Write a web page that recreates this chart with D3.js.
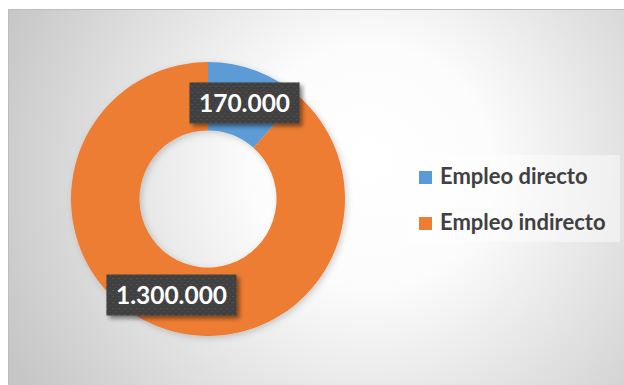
<!DOCTYPE html>
<html>
<head>
<meta charset="utf-8">
<script src="https://cdn.jsdelivr.net/npm/d3@7"></script>
<style>
  html, body { margin: 0; padding: 0; background: #ffffff; }
  svg { display: block; }
</style>
</head>
<body>
<svg id="chart" width="624" height="385"></svg>
<script>
// Employment figures shown in the donut
const categories = ["Empleo directo", "Empleo indirecto"];
const values = [170000, 1300000];
const valueLabels = ["170.000", "1.300.000"];
const colors = ["#5b9bd5", "#ed7d31"];

const W = 624, H = 385;
const svg = d3.select("#chart");
const defs = svg.append("defs");

// Chart area background: soft radial fade from white to grey
const bg = defs.append("radialGradient")
  .attr("id", "bgGrad")
  .attr("gradientUnits", "userSpaceOnUse")
  .attr("cx", 370).attr("cy", 180).attr("r", 400)
  .attr("fx", 370).attr("fy", 160);
bg.append("stop").attr("offset", 0).attr("stop-color", "#ffffff");
bg.append("stop").attr("offset", 0.3).attr("stop-color", "#fcfcfc");
bg.append("stop").attr("offset", 1).attr("stop-color", "#c6c6c6");

// Dotted texture used behind the data labels
const pat = defs.append("pattern")
  .attr("id", "dots")
  .attr("patternUnits", "userSpaceOnUse")
  .attr("width", 6).attr("height", 6);
pat.append("rect").attr("width", 6).attr("height", 6).attr("fill", "#3f3f3f");
pat.append("circle").attr("cx", 1.5).attr("cy", 1.5).attr("r", 0.8).attr("fill", "#5a5a5a");
pat.append("circle").attr("cx", 4.5).attr("cy", 4.5).attr("r", 0.8).attr("fill", "#555555");

// Drop shadows
const sh = defs.append("filter").attr("id", "labelShadow")
  .attr("x", "-20%").attr("y", "-30%").attr("width", "150%").attr("height", "170%");
sh.append("feDropShadow").attr("dx", 3).attr("dy", 3).attr("stdDeviation", 2.2)
  .attr("flood-color", "#000").attr("flood-opacity", 0.45);

const ringSh = defs.append("filter").attr("id", "ringShadow")
  .attr("x", "-20%").attr("y", "-20%").attr("width", "140%").attr("height", "140%");
ringSh.append("feDropShadow").attr("dx", 2).attr("dy", 2).attr("stdDeviation", 3)
  .attr("flood-color", "#000").attr("flood-opacity", 0.18);

// Frame
svg.append("rect")
  .attr("x", 8.5).attr("y", 9.5)
  .attr("width", W).attr("height", H)
  .attr("fill", "url(#bgGrad)")
  .attr("stroke", "#bdbdbd").attr("stroke-width", 1);

// Donut
const cx = 208, cy = 199, outerR = 137, innerR = 68.5;
const pie = d3.pie().sort(null).value(d => d)(values);
const arc = d3.arc().innerRadius(innerR).outerRadius(outerR);
const labelArc = d3.arc().innerRadius((innerR + outerR) / 2).outerRadius((innerR + outerR) / 2);

const g = svg.append("g").attr("transform", `translate(${cx},${cy})`);
g.append("g").attr("filter", "url(#ringShadow)")
  .selectAll("path")
  .data(pie)
  .join("path")
  .attr("d", arc)
  .attr("fill", (d, i) => colors[i]);

// Data labels
const labelFont = "Lato, 'Open Sans', sans-serif";
const lab = g.selectAll("g.lab")
  .data(pie)
  .join("g")
  .attr("class", "lab")
  .attr("transform", d => `translate(${labelArc.centroid(d)})`);

lab.each(function (d, i) {
  const gg = d3.select(this);
  const t = gg.append("text")
    .attr("text-anchor", "middle")
    .attr("dy", "0.35em")
    .attr("font-family", labelFont)
    .attr("font-weight", 700)
    .attr("font-size", 24.5)
    .attr("fill", "#ffffff")
    .text(valueLabels[i]);
  const w = t.node().getComputedTextLength();
  const bw = w + 19, bh = 41;
  gg.insert("rect", "text")
    .attr("x", -bw / 2).attr("y", -bh / 2)
    .attr("width", bw).attr("height", bh)
    .attr("fill", "url(#dots)")
    .attr("filter", "url(#labelShadow)");
});

// Legend
const legend = svg.append("g").attr("transform", "translate(407,155)");
legend.append("rect")
  .attr("width", 213).attr("height", 87)
  .attr("fill", "#ffffff").attr("fill-opacity", 0.45);

const item = legend.selectAll("g.item")
  .data(categories)
  .join("g")
  .attr("class", "item")
  .attr("transform", (d, i) => `translate(12,${16 + i * 46})`);
item.append("rect")
  .attr("width", 13).attr("height", 13)
  .attr("fill", (d, i) => colors[i]);
item.append("text")
  .attr("x", 21).attr("y", 12.5)
  .attr("font-family", labelFont)
  .attr("font-weight", 700)
  .attr("font-size", 22)
  .attr("fill", "#404040")
  .text(d => d);
</script>
</body>
</html>
